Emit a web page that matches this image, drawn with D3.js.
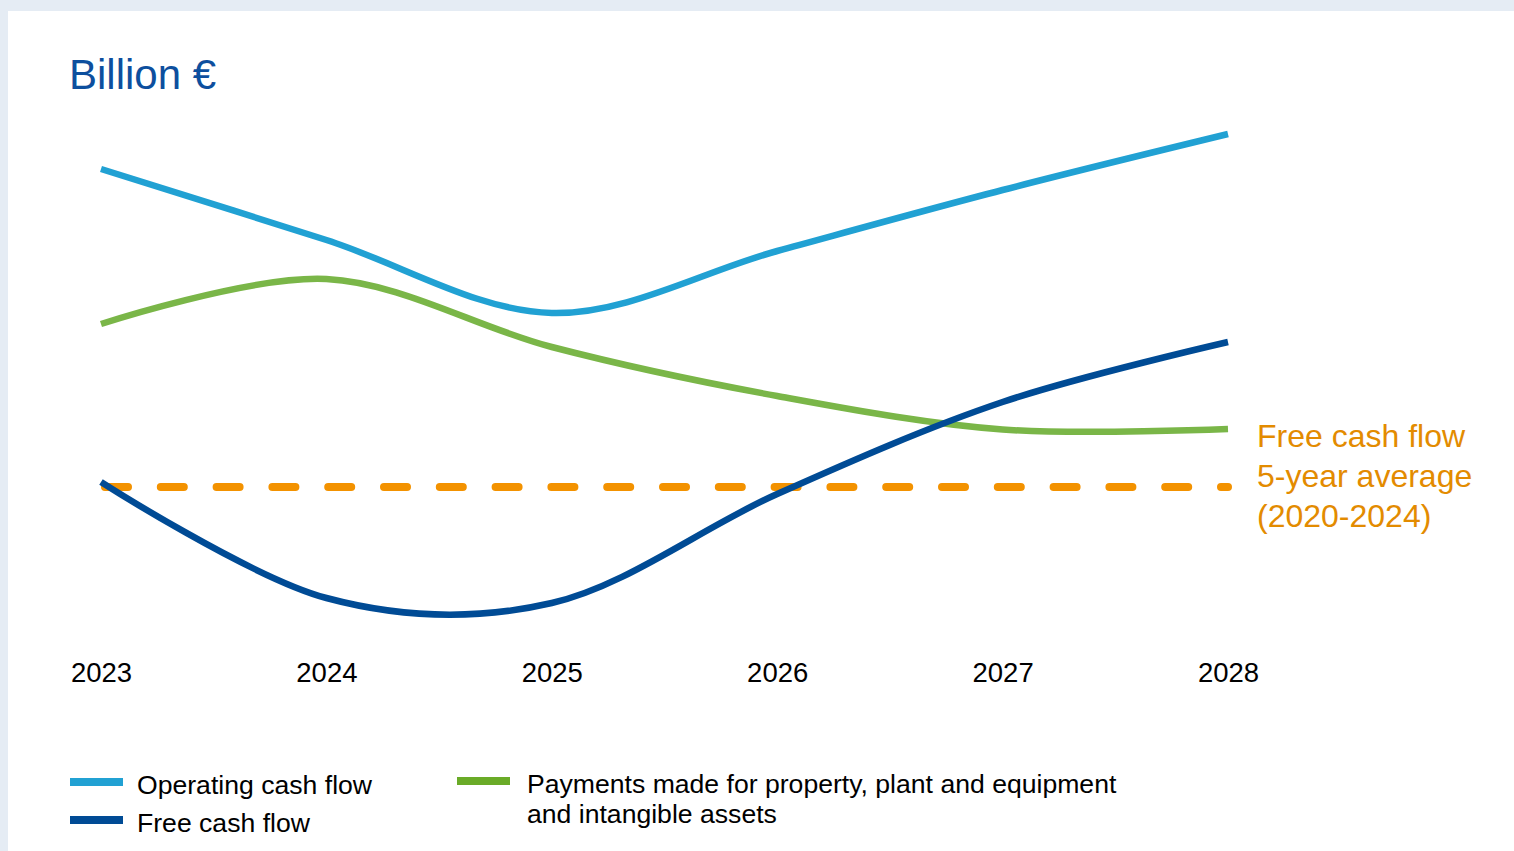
<!DOCTYPE html>
<html>
<head>
<meta charset="utf-8">
<script src="https://cdn.jsdelivr.net/npm/d3@7"></script>
<style>
  html, body { margin: 0; padding: 0; background: #e5ecf4; }
  svg { display: block; font-family: "Liberation Sans", Arial, sans-serif; }
</style>
</head>
<body>
<div id="chart"></div>
<script>
const width = 1514;
const height = 851;

// Data (billion € – no axis shown)
const years = [2023, 2024, 2025, 2026, 2027, 2028];
const operatingCashFlow = [10.62, 9.2, 7.74, 8.98, 10.2, 11.32];
const capexPayments = [7.52, 8.42, 7.06, 6.08, 5.41, 5.42];
const freeCashFlow = [4.36, 2.04, 1.94, 4.12, 5.96, 7.16];
const fcfAverage = 4.26;
const averageLabel = ["Free cash flow", "5-year average", "(2020-2024)"];

const series = [
  { name: "Operating cash flow", values: operatingCashFlow, color: "#21a1d3", legend: "#21a1d3" },
  { name: "Payments made for property, plant and equipment", values: capexPayments, color: "#7ab648", legend: "#6aab28" },
  { name: "Free cash flow", values: freeCashFlow, color: "#004b95", legend: "#004b95" }
];

const svg = d3.select('#chart')
  .append('svg')
  .attr('width', width)
  .attr('height', height);

// white panel
svg.append('rect')
  .attr('x', 8).attr('y', 11)
  .attr('width', width - 8).attr('height', height - 11)
  .attr('fill', '#fff');

// Scales
const x = d3.scalePoint()
  .domain(years)
  .range([101, 1228]);

const y = d3.scaleLinear()
  .domain([0, 14])
  .range([700, 0]);

// Title
svg.append('text')
  .attr('x', 69).attr('y', 89)
  .attr('fill', '#0d4f9e')
  .style('font-size', '42px')
  .text('Billion €');

// X axis labels
const xAxis = d3.axisBottom(x).tickSize(0).tickPadding(0);
const gx = svg.append('g')
  .attr('transform', 'translate(0,662)')
  .call(xAxis);
gx.select('.domain').remove();
gx.selectAll('text')
  .attr('fill', '#000')
  .style('font-size', '27.5px')
  .style('font-family', '"Liberation Sans", Arial, sans-serif');

// Average dashed line
svg.append('line')
  .attr('x1', x(years[0]) + 4)
  .attr('x2', x(years[years.length - 1]))
  .attr('y1', y(fcfAverage))
  .attr('y2', y(fcfAverage))
  .attr('stroke', '#f39200')
  .attr('stroke-width', 8)
  .attr('stroke-linecap', 'round')
  .attr('stroke-dasharray', '23 32.8');

// Lines
const line = d3.line()
  .x((d, i) => x(years[i]))
  .y(d => y(d))
  .curve(d3.curveCardinal.tension(0));

svg.selectAll('.series')
  .data(series)
  .join('path')
  .attr('class', 'series')
  .attr('d', d => line(d.values))
  .attr('fill', 'none')
  .attr('stroke', d => d.color)
  .attr('stroke-width', 6.5);

// Average annotation
svg.append('text')
  .attr('x', 1257)
  .attr('y', 447)
  .attr('fill', '#e38b00')
  .style('font-size', '32px')
  .selectAll('tspan')
  .data(averageLabel)
  .join('tspan')
  .attr('x', 1257)
  .attr('dy', (d, i) => i === 0 ? 0 : 40)
  .text(d => d);

// Legend
const legendItems = [
  { s: series[0], x: 70, y: 782, tx: 67, lines: ["Operating cash flow"] },
  { s: series[2], x: 70, y: 820, tx: 67, lines: ["Free cash flow"] },
  { s: series[1], x: 457, y: 781, tx: 70, lines: ["Payments made for property, plant and equipment", "and intangible assets"] }
];

const lg = svg.selectAll('.legend')
  .data(legendItems)
  .join('g')
  .attr('class', 'legend')
  .attr('transform', d => `translate(${d.x},${d.y})`);

lg.append('rect')
  .attr('x', 0).attr('y', -4)
  .attr('width', 53).attr('height', 8)
  .attr('fill', d => d.s.legend);

lg.append('text')
  .attr('y', 12)
  .attr('fill', '#000')
  .style('font-size', '26.6px')
  .each(function(d) {
    d3.select(this).selectAll('tspan')
      .data(d.lines)
      .join('tspan')
      .attr('x', d.tx)
      .attr('dy', (t, i) => i === 0 ? 0 : 30)
      .text(t => t);
  });
</script>
</body>
</html>
